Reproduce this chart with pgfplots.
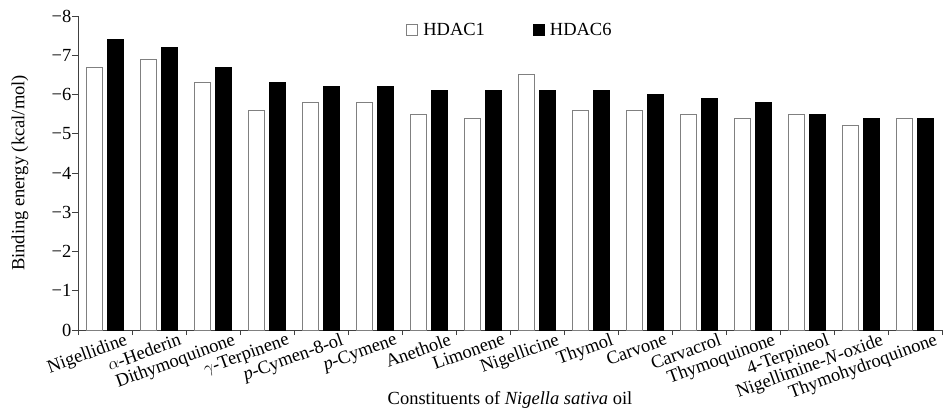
\documentclass[border=0pt]{standalone}
\usepackage{fontspec}
\setmainfont{Liberation Serif}
\usepackage{pgfplots}
\pgfplotsset{compat=1.18}
\newcommand\cf{\fontsize{18.5}{21}\selectfont}
\begin{document}
\begin{tikzpicture}
\useasboundingbox (-78pt,-85pt) rectangle (865pt,330pt);
\begin{axis}[
  at={(0,0)}, anchor=south west,
  scale only axis, width=864pt, height=314pt,
  xmin=-0.5, xmax=15.5, ymin=-8, ymax=0, y dir=reverse,
  axis x line*=bottom, axis y line*=left,
  axis line style={black!75, line width=0.9pt},
  ybar, bar width=0.29,
  xtick={0,...,15},
  xticklabels={Nigellidine,$\alpha$-Hederin,Dithymoquinone,$\gamma$-Terpinene,\textit{p}-Cymen-8-ol,\textit{p}-Cymene,Anethole,Limonene,Nigellicine,Thymol,Carvone,Carvacrol,Thymoquinone,4-Terpineol,Nigellimine-\textit{N}-oxide,Thymohydroquinone},
  major x tick style={draw=none},
  minor xtick={-0.5,0.5,...,15.5},
  minor tick length=5pt,
  minor x tick style={black!75, line width=0.9pt},
  ytick={-8,-7,-6,-5,-4,-3,-2,-1,0},
  yticklabels={−8,−7,−6,−5,−4,−3,−2,−1,0},
  major tick length=6pt,
  y tick style={black!75, line width=0.9pt},
  tick align=outside,
  xticklabel style={font=\cf, rotate=20, anchor=north east, xshift=20pt, yshift=-2pt, inner sep=1pt},
  yticklabel style={font=\cf, inner sep=0.5pt},
  ylabel={Binding energy (kcal/mol)},
  xlabel={Constituents of \textit{Nigella sativa} oil},
  every axis y label/.style={at={(axis description cs:0,0.5)}, xshift=-58pt, rotate=90, anchor=center, font=\cf},
  every axis x label/.style={at={(axis description cs:0.5,0)}, anchor=center, yshift=-70pt, font=\cf},
  legend style={at={(axis description cs:0.5,0.955)}, anchor=center, draw=none, fill=none, font=\cf, legend columns=2, /tikz/every even column/.style={column sep=46pt}},
  legend image code/.code={\draw[#1, line width=0.8pt] (0pt,-5pt) rectangle (11pt,6pt); \path (14pt,0pt);},
]
\addplot[bar shift=-0.19, fill=white, draw=black!50, line width=1pt] coordinates {
(0,-6.7) (1,-6.9) (2,-6.3) (3,-5.6) (4,-5.8) (5,-5.8) (6,-5.5) (7,-5.4)
(8,-6.5) (9,-5.6) (10,-5.6) (11,-5.5) (12,-5.4) (13,-5.5) (14,-5.2) (15,-5.4)};
\addlegendentry{HDAC1}
\addplot[bar shift=0.19, fill=black, draw=black, line width=1pt] coordinates {
(0,-7.4) (1,-7.2) (2,-6.7) (3,-6.3) (4,-6.2) (5,-6.2) (6,-6.1) (7,-6.1)
(8,-6.1) (9,-6.1) (10,-6.0) (11,-5.9) (12,-5.8) (13,-5.5) (14,-5.4) (15,-5.4)};
\addlegendentry{HDAC6}
\end{axis}
\end{tikzpicture}
\end{document}
